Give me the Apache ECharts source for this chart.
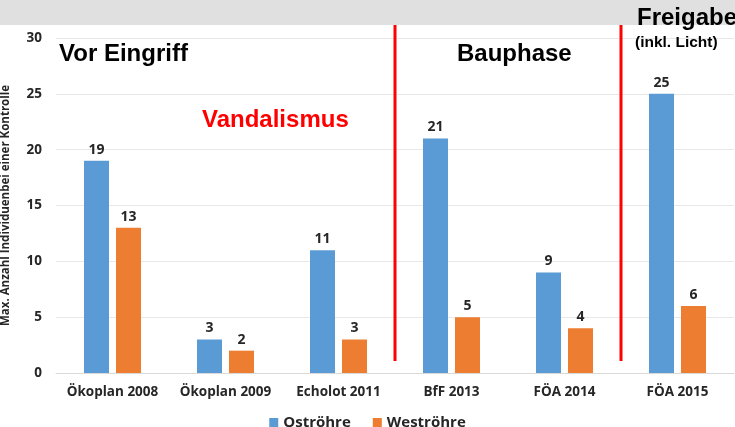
<!DOCTYPE html>
<html>
<head>
<meta charset="utf-8">
<style>
  html, body { margin: 0; padding: 0; background: #fff; }
  #chart { width: 735px; height: 427px; }
</style>
<script src="https://cdn.jsdelivr.net/npm/echarts@6/dist/echarts.min.js"></script>
</head>
<body>
<div id="chart"></div>
<script>
  // Daten
  const categories = ['Ökoplan 2008', 'Ökoplan 2009', 'Echolot 2011', 'BfF 2013', 'FÖA 2014', 'FÖA 2015'];
  const ostroehre = [19, 3, 11, 21, 9, 25];
  const westroehre = [13, 2, 3, 5, 4, 6];
  const yTicks = [0, 5, 10, 15, 20, 25, 30];

  const font = '"Open Sans", "Noto Sans", sans-serif';
  const chart = echarts.init(document.getElementById('chart'));

  const labelStyle = {
    show: true,
    position: 'top',
    distance: 4,
    color: '#262626',
    fontWeight: 'bold',
    fontSize: 14,
    fontFamily: font
  };

  chart.setOption({
    animation: false,
    grid: { left: 56, right: 1, top: 38, bottom: 54, outerBoundsMode: 'none' },
    legend: {
      top: 410,
      left: 'center',
      itemWidth: 9,
      itemHeight: 9,
      itemGap: 22,
      icon: 'rect',
      textStyle: { fontSize: 15, fontWeight: 'bold', color: '#262626', fontFamily: font },
      data: ['Oströhre', 'Weströhre']
    },
    xAxis: {
      type: 'category',
      data: categories,
      axisTick: { show: false },
      axisLine: { lineStyle: { color: '#d9d9d9' } },
      axisLabel: { interval: 0, color: '#262626', fontWeight: 'bold', fontSize: 13.5, fontFamily: font, margin: 12 }
    },
    yAxis: {
      type: 'value',
      min: yTicks[0],
      max: yTicks[yTicks.length - 1],
      interval: 5,
      name: 'Max. Anzahl Individuenbei einer Kontrolle',
      nameLocation: 'middle',
      nameGap: 44,
      nameTextStyle: { fontSize: 11.5, fontWeight: 'bold', color: '#262626', fontFamily: font },
      axisLabel: { color: '#262626', fontWeight: 'bold', fontSize: 13.5, fontFamily: font, margin: 14 },
      splitLine: { lineStyle: { color: '#e8e8e8' } }
    },
    series: [
      {
        name: 'Oströhre',
        type: 'bar',
        data: ostroehre,
        barWidth: 25,
        barGap: '28%',
        itemStyle: { color: '#5b9bd5' },
        label: labelStyle
      },
      {
        name: 'Weströhre',
        type: 'bar',
        data: westroehre,
        barWidth: 25,
        itemStyle: { color: '#ed7d31' },
        label: labelStyle
      }
    ]
  });

  // Trennlinien zwischen den Phasen
  function boundaryX(i) {
    const a = chart.convertToPixel({ xAxisIndex: 0 }, categories[i]);
    const b = chart.convertToPixel({ xAxisIndex: 0 }, categories[i + 1]);
    return Math.round((a + b) / 2);
  }
  const x1 = boundaryX(2);
  const x2 = boundaryX(4);

  const bigFont = 'bold 24px "Liberation Sans", Arial, sans-serif';

  function title(text, x, y, color, f) {
    return {
      type: 'text', x: x, y: y,
      style: { text: text, fill: color || '#000', font: f || bigFont, verticalAlign: 'middle' }
    };
  }

  chart.setOption({
    graphic: [
      { type: 'rect', z: -1, shape: { x: 0, y: 0, width: 735, height: 25 }, style: { fill: '#e0e0e0' } },
      { type: 'line', shape: { x1: x1, y1: 25, x2: x1, y2: 361 }, style: { stroke: '#ff0000', lineWidth: 3 } },
      { type: 'line', shape: { x1: x2, y1: 25, x2: x2, y2: 361 }, style: { stroke: '#ff0000', lineWidth: 3 } },
      title('Vor Eingriff', 59, 54),
      title('Vandalismus', 202, 120, '#ff0000'),
      title('Bauphase', 457, 54),
      title('Freigabe', 637, 18),
      title('(inkl. Licht)', 635, 43, '#000', 'bold 15.5px "Liberation Sans", Arial, sans-serif')
    ]
  });
</script>
</body>
</html>
